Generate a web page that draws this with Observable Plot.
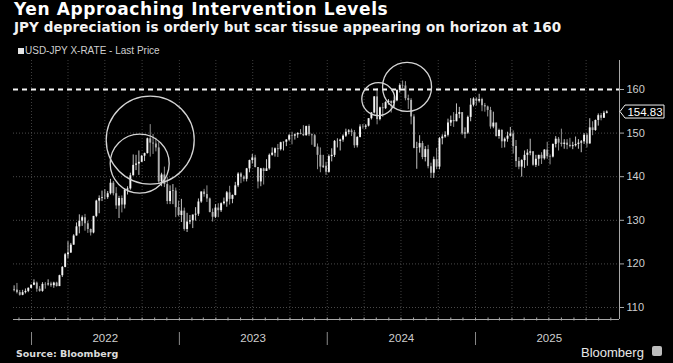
<!DOCTYPE html>
<html><head><meta charset="utf-8">
<script src="https://cdn.jsdelivr.net/npm/d3@7"></script>
<script src="https://cdn.jsdelivr.net/npm/@observablehq/plot@0.6"></script>
<style>
html,body{margin:0;padding:0;background:#000;}
#wrap{position:relative;width:673px;height:363px;background:#000;overflow:hidden;font-family:"Liberation Sans",Arial,sans-serif;}
#wrap svg{position:absolute;left:0;top:0;}
.t{position:absolute;white-space:nowrap;line-height:1;color:#fff;}
.dv{font-family:"DejaVu Sans",sans-serif;font-weight:bold;}
</style></head><body>
<div id="wrap">
<div class="t dv" style="left:14px;top:1.4px;font-size:17px;letter-spacing:0.6px;">Yen Approaching Intervention Levels</div>
<div class="t dv" style="left:14px;top:21px;font-size:13.5px;letter-spacing:0.1px;color:#f2f2f2;">JPY depreciation is orderly but scar tissue appearing on horizon at 160</div>
<div class="t" style="left:18px;top:48px;width:6px;height:6px;background:#e6e6e6;"></div>
<div class="t" style="left:25px;top:45.8px;font-size:10px;color:#cfcfcf;">USD-JPY X-RATE - Last Price</div>
<div class="t dv" style="left:16px;top:348.6px;font-size:9.5px;color:#dcdcdc;">Source: Bloomberg</div>
<div class="t" style="left:581px;top:345.7px;font-size:13px;color:#e8e8e8;">Bloomberg</div>
<div class="t" style="left:652px;top:346px;width:10px;height:10px;background:#bdbdbd;border-radius:2px;"></div>
</div>
<script>
// Weekly USD-JPY candles, weeks ending Friday, starting 2021-11-19
const firstWeek = "2021-11-19";
const firstOpen = 113.9;
const closes = [
  // 2021
  114.0,113.4,112.8,113.4,113.7,114.4,115.1,
  // 2022
  115.6,114.2,113.7,115.3, 115.2,115.4,115.0,115.6, 114.8,117.3,119.2,122.1, 122.5,124.3,126.4,128.5,129.8,
  130.6,129.2,127.9,127.1, 130.9,134.4,135.0,135.2, 135.2,136.1,138.5,136.1,133.3, 135.0,133.5,136.9,137.2,
  140.2,142.6,142.9,143.3,144.7, 145.3,148.7,147.7,147.5, 146.6,138.8,140.4,138.2, 134.3,136.6,136.7,132.9,131.1,
  // 2023
  132.1,127.9,129.6,129.9, 131.2,131.4,134.2,136.5, 135.9,134.9,131.8,130.7,132.8, 132.2,133.8,134.2,136.3,
  134.8,135.7,137.9,140.6, 139.9,139.4,141.8,143.7,144.3, 142.1,138.8,141.8,141.2, 141.8,144.9,145.4,146.4,
  146.2,147.8,147.9,148.4,149.4, 149.3,149.6,149.9,149.7, 149.4,151.5,149.6,149.4, 146.8,144.9,142.2,142.4,141.0,
  // 2024
  144.6,144.9,148.1,148.1, 148.4,149.3,150.2,150.5, 150.1,147.1,149.0,151.4,151.35, 151.6,153.3,154.6,158.3,
  153.1,155.8,155.6,157.0,157.3, 156.8,157.4,159.8,160.9, 160.8,157.9,157.5,153.7, 146.5,146.6,147.6,144.4,146.2,
  142.3,140.8,143.9,142.2, 148.7,149.1,149.5,152.3, 152.9,152.6,154.3,154.7,149.8, 150.0,153.6,156.4,157.8,
  // 2025
  157.3,157.7,156.3,156.0,155.2, 151.4,152.3,149.2,150.6, 148.0,148.6,149.3,149.8, 146.9,143.5,142.2,143.7,
  144.9,145.4,145.7,142.6,144.0, 144.9,144.1,146.1,144.6, 144.5,147.4,148.6,147.7, 147.4,147.7,147.2,146.9,147.1,
  147.4,147.7,148.0,149.5, 147.5,151.2,150.6,152.9,154.0, 153.4,154.55,154.83
];
const highs = [
  114.97,115.52,113.9,113.95,114.25,114.5,115.2,
  116.35,115.85,114.8,115.7, 115.7,116.35,115.8,115.8, 115.8,117.4,119.4,122.4, 125.1,124.7,126.7,129.4,131.25,
  131.0,131.35,129.8,128.0, 130.9,134.6,135.6,136.7, 137.0,136.6,139.4,138.9,137.5, 135.5,135.6,137.2,137.7,
  140.8,144.99,144.9,145.9,144.9, 145.4,148.85,151.95,149.7, 148.8,147.8,140.8,142.2, 139.9,137.9,138.2,137.4,134.4,
  134.8,132.8,131.6,131.1, 131.2,132.9,134.9,136.5, 137.1,137.9,135.1,132.6,133.6, 133.8,134.0,135.1,136.6,
  137.8,135.8,138.7,140.9, 140.9,140.2,141.9,143.8,145.1, 144.9,142.0,141.9,141.95, 143.9,145.2,146.6,146.6,
  147.4,147.9,147.95,148.5,149.7, 150.2,149.8,150.1,150.8, 151.7,151.6,151.9,149.8, 149.7,147.5,146.6,144.9,143.3,
  145.0,146.4,148.3,148.7, 148.6,149.6,150.9,150.8, 150.9,150.6,149.2,151.9,151.97, 151.95,153.3,154.7,158.4,
  160.2,155.95,156.8,157.2,157.7, 157.0,158.3,159.9,161.3, 161.95,161.8,158.7,157.9, 154.2,147.9,149.4,148.1,146.9,
  147.2,143.1,144.5,146.5, 149.0,149.6,150.3,153.2, 153.9,154.7,156.7,155.9,154.7, 151.2,153.9,157.9,158.1,
  158.1,158.9,158.0,156.8,156.2, 155.9,154.8,152.2,150.9, 150.8,148.9,150.2,151.3, 150.5,148.3,144.4,143.9,
  145.9,146.2,148.6,145.6,144.9, 144.9,145.5,146.2,147.9, 145.0,147.5,149.2,149.0, 150.9,148.5,148.5,148.8,147.9,
  149.1,148.5,148.3,149.9, 149.9,153.3,152.6,153.0,154.4, 154.5,155.0,155.1
];
const lows = [
  113.6,113.1,112.6,112.7,113.1,113.4,114.3,
  115.0,113.5,113.5,113.5, 114.2,114.9,114.6,114.4, 114.7,114.9,116.9,119.1, 121.2,122.4,124.3,126.4,126.9,
  128.6,127.5,127.0,126.4, 126.9,130.6,131.5,134.3, 134.7,134.8,135.8,135.6,132.5, 130.4,131.7,132.6,135.8,
  136.9,140.2,141.4,140.3,143.3, 143.5,145.2,144.5,145.1, 145.7,138.5,137.7,137.5, 133.6,133.6,133.6,130.6,130.8,
  129.5,127.5,127.2,129.0, 128.1,129.8,130.9,133.9, 135.3,134.1,131.7,129.6,130.4, 130.6,131.8,133.5,133.0,
  133.5,133.8,135.6,137.5, 138.4,138.8,138.8,140.9,142.9, 142.0,137.2,137.7,138.1, 141.5,141.5,144.7,144.5,
  144.4,145.9,145.9,146.9,148.1, 147.3,148.4,148.8,149.6, 149.2,149.3,149.2,147.2, 146.7,141.6,140.9,141.9,140.3,
  140.8,143.4,144.4,146.6, 145.9,147.9,149.0,149.6, 149.2,146.5,146.6,148.9,150.9, 150.8,151.4,153.0,154.4,
  151.9,152.8,153.6,155.4,156.4, 154.6,155.7,157.2,159.2, 160.2,157.4,155.4,151.9, 146.4,141.7,145.4,143.9,143.4,
  141.8,139.6,139.6,141.6, 141.6,147.3,148.8,149.1, 151.5,151.3,152.6,153.3,149.5, 148.7,149.7,152.6,156.0,
  156.2,156.9,154.9,154.8,153.7, 150.9,151.0,149.1,148.6, 146.5,146.6,147.9,149.1, 145.2,142.1,141.6,139.9,
  141.9,142.4,144.8,142.4,142.1, 142.4,142.8,143.8,144.0, 142.7,144.3,146.6,145.9, 146.8,146.3,146.2,146.6,146.2,
  146.8,146.3,145.5,147.4, 146.6,147.6,149.4,150.4,151.6, 152.8,153.6,154.4
];

// axis labels
const years = [2022, 2023, 2024, 2025];
const yTicks = [110, 120, 130, 140, 150, 160];
const yGrid = [110, 120, 130, 140, 150];
const interventionLevel = 160;

// annotation circles (centre date, centre value, radius in px)
const circleDates = ["2022-10-21", "2022-09-25", "2024-05-06", "2024-07-16"];
const circleValues = [148.4, 143.0, 157.8, 160.6];
const circleRadii = [44, 29.5, 16.5, 24.5];

const xDomain = [new Date("2021-11-17T12:00Z"), new Date("2025-12-22T10:00Z")];
const yDomain = [107.25, 166.65];

const start = new Date(firstWeek + "T00:00Z");
const candles = closes.map((c, i) => {
  const open = i === 0 ? firstOpen : closes[i - 1];
  return {
    date: d3.utcDay.offset(start, 7 * i),
    open, close: c,
    high: Math.max(highs[i], open, c),
    low: Math.min(lows[i], open, c),
    up: c >= open
  };
});
const circles = circleDates.map((d, i) => ({date: new Date(d + "T00:00Z"), value: circleValues[i], r: circleRadii[i]}));
const lastClose = closes[closes.length - 1];

const monthTicks = d3.utcMonth.range(xDomain[0], xDomain[1]);
const quarterTicks = d3.utcMonth.every(3).range(xDomain[0], xDomain[1]);
const yearStarts = years.map(y => new Date(Date.UTC(y, 0, 1)));
const yearMids = years.map(y => new Date(Date.UTC(y, 6, 2)));

function priceTag(index, scales, values, dimensions) {
  const y = scales.y(lastClose);
  const x0 = dimensions.width - dimensions.marginRight + 1;
  const g = d3.create("svg:g");
  g.append("path")
    .attr("d", `M${x0},${y}L${x0 + 5},${y - 6.5}H${x0 + 44}V${y + 6.5}H${x0 + 5}Z`)
    .attr("fill", "#000").attr("stroke", "#f0f0f0").attr("stroke-width", 1);
  g.append("text")
    .attr("x", x0 + 25).attr("y", y).attr("dy", "0.36em")
    .attr("text-anchor", "middle").attr("fill", "#fff").attr("font-size", 11.5)
    .text(lastClose.toFixed(2));
  return g.node();
}

const chart = Plot.plot({
  width: 673, height: 363,
  marginTop: 60, marginBottom: 44, marginLeft: 13, marginRight: 54,
  style: {background: "transparent", color: "#c8c8c8", fontFamily: "Liberation Sans, Arial, sans-serif", fontSize: "11px", overflow: "visible"},
  x: {type: "utc", domain: xDomain},
  y: {domain: yDomain},
  r: {type: "identity"},
  marks: [
    Plot.gridY(yGrid, {stroke: "#6a6a6a", strokeOpacity: 1, strokeWidth: 0.7, strokeDasharray: "1,2"}),
    Plot.gridX(quarterTicks, {stroke: "#5a5a5a", strokeOpacity: 1, strokeWidth: 0.7, strokeDasharray: "1,2"}),
    Plot.ruleX(candles, {x: "date", y1: "low", y2: "high", stroke: d => d.up ? "#d8d8d8" : "#a0a0a0", strokeWidth: 0.9}),
    Plot.ruleX(candles, {x: "date", y1: "open", y2: "close", stroke: d => d.up ? "#f4f4f4" : "#b0b0b0", strokeWidth: 1.9}),
    Plot.ruleY([interventionLevel], {stroke: "#f4f4f4", strokeWidth: 2, strokeDasharray: "5,4"}),
    Plot.dot(circles, {x: "date", y: "value", r: "r", stroke: "#d4d4d4", strokeWidth: 1.3, fill: "none"}),
    Plot.ruleY([yDomain[0]], {stroke: "#a8a8a8", strokeWidth: 1}),
    Plot.ruleX([xDomain[1]], {y1: yDomain[0], y2: yDomain[1], stroke: "#a8a8a8", strokeWidth: 1}),
    Plot.axisX(monthTicks, {tickSize: 3, dy: -1.5, tickFormat: () => "", stroke: "#a8a8a8"}),
    Plot.axisX(yearStarts, {tickSize: 13, dy: 13, tickFormat: () => "", stroke: "#8a8a8a"}),
    Plot.axisX(yearMids, {tickSize: 0, tickPadding: 14, tickFormat: d => String(d.getUTCFullYear()), fontSize: 11.5, fill: "#cfcfcf"}),
    Plot.axisY(yTicks, {anchor: "right", tickSize: 4, tickPadding: 3, label: null, fontSize: 11, fill: "#cfcfcf", stroke: "#a8a8a8"}),
    priceTag
  ]
});
document.getElementById("wrap").prepend(chart);
</script>
</body></html>
